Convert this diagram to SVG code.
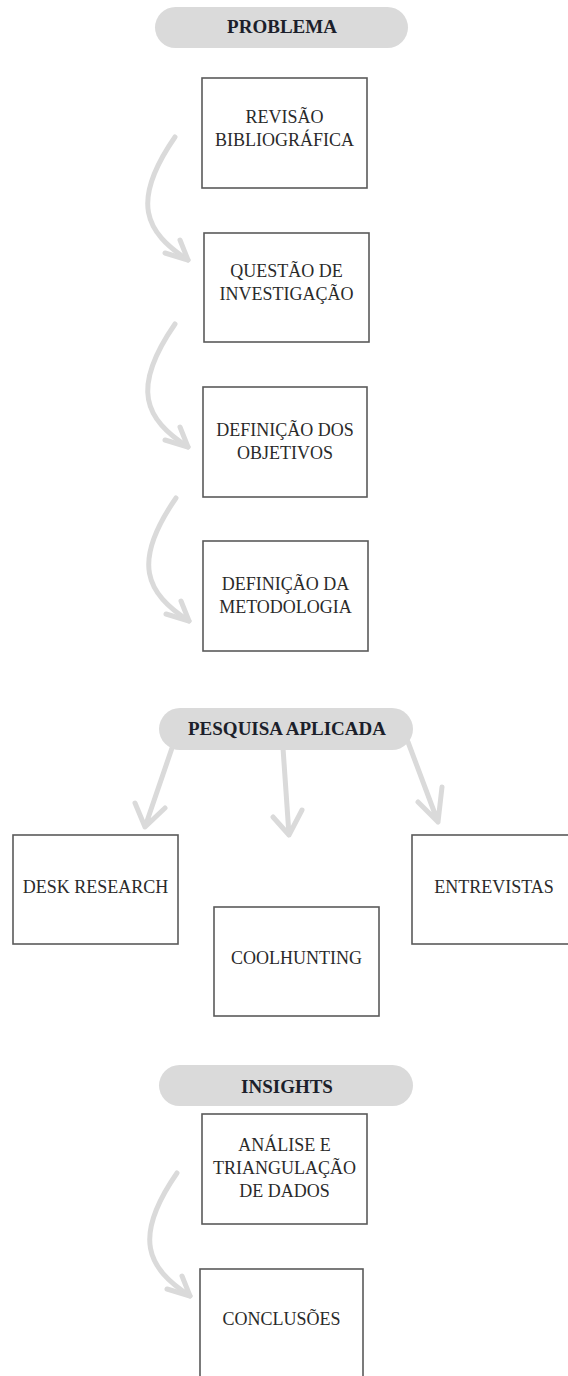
<svg xmlns="http://www.w3.org/2000/svg" xmlns:xlink="http://www.w3.org/1999/xlink" width="568" height="1376" viewBox="0 0 568 1376">
<style>
.pill{fill:#dadada;}
.pt{font-family:"Liberation Serif",serif;font-weight:bold;font-size:19px;fill:#1c1f2b;text-anchor:middle;}
.box{fill:#fff;stroke:#5a5a5a;stroke-width:1.6;}
.bt{font-family:"Liberation Serif",serif;font-size:18px;fill:#2a2a2a;text-anchor:middle;}
.arr{fill:none;stroke:#dadada;stroke-width:5;stroke-linecap:round;stroke-linejoin:round;}
</style>
<defs>
<g id="curve">
<path class="arr" d="M0,0 C-45,65 -30,95 13,123"/>
<path class="arr" d="M5,103 L13,123 L-10,116"/>
</g>
</defs>
<rect width="568" height="1376" fill="#fff"/>
<g id="connectors">
<use xlink:href="#curve" x="175" y="137"/>
<use xlink:href="#curve" x="175" y="324"/>
<use xlink:href="#curve" x="176" y="498"/>
<use xlink:href="#curve" x="177" y="1173"/>
<path class="arr" d="M172,748 L145,827 M135,803 L145,827 L165,808"/>
<path class="arr" d="M283,748 L289,835 M273,817 L289,835 L302,810"/>
<path class="arr" d="M408,742 L438,822 M418,802 L438,822 L442,787"/>
</g>
<g id="problema">
<rect class="pill" x="155" y="7" width="253" height="41" rx="20.5"/>
<text class="pt" x="282" y="33">PROBLEMA</text>
</g>
<g id="revisao">
<rect class="box" x="202" y="78" width="165" height="110"/>
<text class="bt" x="284.5" y="123">REVISÃO</text>
<text class="bt" x="284.5" y="146">BIBLIOGRÁFICA</text>
</g>
<g id="questao">
<rect class="box" x="204" y="233" width="165" height="109"/>
<text class="bt" x="286.5" y="277">QUESTÃO DE</text>
<text class="bt" x="286.5" y="300">INVESTIGAÇÃO</text>
</g>
<g id="objetivos">
<rect class="box" x="203" y="387" width="164" height="110"/>
<text class="bt" x="285" y="436">DEFINIÇÃO DOS</text>
<text class="bt" x="285" y="459">OBJETIVOS</text>
</g>
<g id="metodologia">
<rect class="box" x="203" y="541" width="165" height="110"/>
<text class="bt" x="285.5" y="590">DEFINIÇÃO DA</text>
<text class="bt" x="285.5" y="613">METODOLOGIA</text>
</g>
<g id="pesquisa">
<rect class="pill" x="159" y="708" width="254" height="42" rx="21"/>
<text class="pt" x="287" y="735">PESQUISA APLICADA</text>
</g>
<g id="desk">
<rect class="box" x="13" y="835" width="165" height="109"/>
<text class="bt" x="95.5" y="893">DESK RESEARCH</text>
</g>
<g id="coolhunting">
<rect class="box" x="214" y="907" width="165" height="109"/>
<text class="bt" x="296.5" y="964">COOLHUNTING</text>
</g>
<g id="entrevistas">
<rect class="box" x="412" y="835" width="170" height="109"/>
<text class="bt" x="494" y="893">ENTREVISTAS</text>
</g>
<g id="insights">
<rect class="pill" x="159" y="1065" width="254" height="41" rx="20.5"/>
<text class="pt" x="287" y="1093">INSIGHTS</text>
</g>
<g id="analise">
<rect class="box" x="202" y="1114" width="165" height="110"/>
<text class="bt" x="284.5" y="1151">ANÁLISE E</text>
<text class="bt" x="284.5" y="1174">TRIANGULAÇÃO</text>
<text class="bt" x="284.5" y="1197">DE DADOS</text>
</g>
<g id="conclusoes">
<rect class="box" x="200" y="1269" width="163" height="130"/>
<text class="bt" x="281.5" y="1325">CONCLUSÕES</text>
</g>
</svg>
